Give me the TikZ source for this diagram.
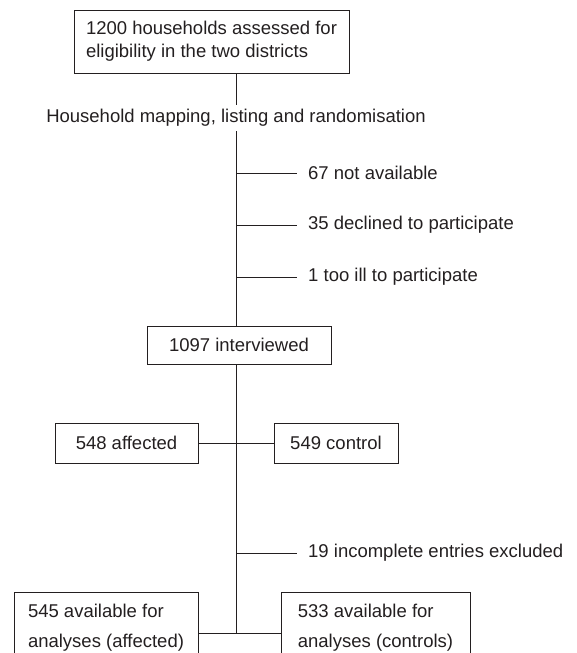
\documentclass[tikz,border=0pt]{standalone}
\usepackage{fontspec}
\setmainfont{Liberation Sans}
\definecolor{ink}{HTML}{231F20}
\begin{document}
\begin{tikzpicture}[x=1pt,y=-1pt,
  box/.style={draw=ink, line width=0.9pt, inner sep=0pt, text=ink, align=left,
    font=\fontsize{18.5}{23}\selectfont},
  note/.style={anchor=west, inner sep=0pt, text=ink, font=\fontsize{18.5}{23}\selectfont},
  conn/.style={draw=ink, line width=0.9pt}]
\useasboundingbox (0,0) rectangle (577,653);
\coordinate (s0) at (236,0);
\coordinate (j) at (236,633);
% boxes
\node[box, minimum width=275pt, minimum height=63pt] (top) at (211.5,41.5)
  {1200 households assessed for\\eligibility in the two districts};
\node[note, anchor=center, inner ysep=4.5pt] (map) at (236,118)
  {Household mapping, listing and randomisation};
\node[box, minimum width=184pt, minimum height=38pt] (int) at (239,345) {1097 interviewed};
\node[box, minimum width=143pt, minimum height=40pt] (aff) at (126.5,443) {548 affected};
\node[box, minimum width=124pt, minimum height=40pt] (ctl) at (336,443) {549 control};
\node[box, minimum width=184pt, minimum height=72pt, font=\fontsize{18.5}{30}\selectfont] (bl) at (106,628)
  {545 available for\\analyses (affected)};
\node[box, minimum width=189pt, minimum height=72pt, font=\fontsize{18.5}{30}\selectfont] (br) at (375.5,628)
  {533 available for\\analyses (controls)};
% side notes
\node[note] (n1) at (308,173) {67 not available};
\node[note] (n2) at (308,225) {35 declined to participate};
\node[note] (n3) at (308,277) {1 too ill to participate};
\node[note] (n4) at (308,553) {19 incomplete entries excluded};
% connectors
\draw[conn] (s0 |- top.south) -- (s0 |- map.north);
\draw[conn] (s0 |- map.south) -- (s0 |- int.north);
\foreach \n in {n1,n2,n3,n4}
  \draw[conn] (s0 |- \n.west) -- ([xshift=-11pt]\n.west);
\draw[conn] (s0 |- int.south) -- (j);
\draw[conn] (aff.east) -- (ctl.west);
\draw[conn] (bl.east |- j) -- (br.west |- j);
\end{tikzpicture}
\end{document}
